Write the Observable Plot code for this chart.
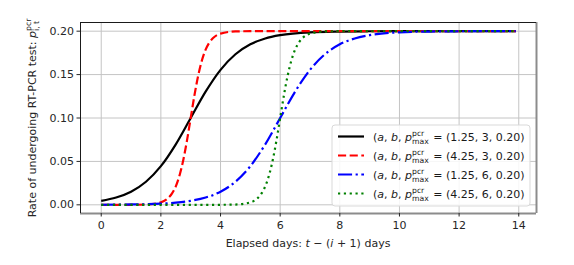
<!DOCTYPE html>
<html>
<head>
<meta charset="utf-8">
<script src="https://cdn.jsdelivr.net/npm/d3@7"></script>
<script src="https://cdn.jsdelivr.net/npm/@observablehq/plot@0.6"></script>
<style>
  html, body { margin: 0; padding: 0; background: #fff; }
  #chart { width: 574px; height: 265px; }
</style>
</head>
<body>
<div id="chart"></div>
<script>
// ---- data ----
const blackX = [0, 0.5, 1, 1.5, 2, 2.5, 3, 3.5, 4, 4.5, 5, 5.5, 6, 7, 8, 9, 10, 11, 12, 13, 13.9];
const blackY = [0.0046, 0.0084, 0.0151, 0.0266, 0.0445, 0.0697, 0.1, 0.1303, 0.1555, 0.1734, 0.1849, 0.1916, 0.1954, 0.1987, 0.1996, 0.1999, 0.2, 0.2, 0.2, 0.2, 0.2];

const redX = [0, 1, 1.5, 2, 2.25, 2.375, 2.5, 2.625, 2.75, 2.875, 3, 3.125, 3.25, 3.375, 3.5, 3.625, 3.75, 4, 4.5, 5, 6, 8, 10, 12, 13.9];
const redY = [0, 0.00004, 0.0003, 0.0028, 0.0079, 0.0131, 0.0213, 0.0338, 0.0514, 0.074, 0.1, 0.126, 0.1486, 0.1662, 0.1787, 0.1869, 0.1921, 0.1972, 0.1997, 0.2, 0.2, 0.2, 0.2, 0.2, 0.2];

const blueX = [0, 1, 2, 2.5, 3, 3.5, 4, 4.5, 5, 5.5, 6, 6.5, 7, 7.5, 8, 8.5, 9, 10, 11, 12, 13, 13.9];
const blueY = [0.0001, 0.0004, 0.0013, 0.0025, 0.0046, 0.0084, 0.0151, 0.0266, 0.0445, 0.0697, 0.1, 0.1303, 0.1555, 0.1734, 0.1849, 0.1916, 0.1954, 0.1987, 0.1996, 0.1999, 0.2, 0.2];

const greenX = [0, 2, 4, 4.5, 5, 5.25, 5.375, 5.5, 5.625, 5.75, 5.875, 6, 6.125, 6.25, 6.375, 6.5, 6.625, 6.75, 7, 7.5, 8, 10, 12, 13.9];
const greenY = [0, 0, 0.00004, 0.0003, 0.0028, 0.0079, 0.0131, 0.0213, 0.0338, 0.0514, 0.074, 0.1, 0.126, 0.1486, 0.1662, 0.1787, 0.1869, 0.1921, 0.1972, 0.1997, 0.2, 0.2, 0.2, 0.2];

const seriesNames = ["(1.25, 3, 0.20)", "(4.25, 3, 0.20)", "(1.25, 6, 0.20)", "(4.25, 6, 0.20)"];
const xTicks = [0, 2, 4, 6, 8, 10, 12, 14];
const yTicks = [0, 0.05, 0.10, 0.15, 0.20];
const xLabel = "Elapsed days: ";
const yLabel = "Rate of undergoing RT-PCR test: ";

// ---- styles ----
const colors = ["#000000", "#ff0000", "#0000ff", "#008000"];
const lw = 2.2;
const dashes = [null, `${3.7*lw},${1.6*lw}`, `${6.4*lw},${1.6*lw},${1*lw},${1.6*lw}`, `${1*lw},${1.65*lw}`];

const toRows = (xs, ys, k) => xs.map((x, i) => ({x, y: ys[i], k}));
const series = [
  toRows(blackX, blackY, 0),
  toRows(redX, redY, 1),
  toRows(blueX, blueY, 2),
  toRows(greenX, greenY, 3)
];

const xDomain = [-0.695, 14.595];
const yDomain = [-0.01, 0.21];
const FONT = "DejaVu Sans";

const chart = Plot.plot({
  width: 574,
  height: 265,
  marginLeft: 80,
  marginRight: 38,
  marginTop: 22,
  marginBottom: 52,
  style: {fontFamily: FONT, fontSize: "11px", color: "#262626", background: "#fff", overflow: "visible"},
  x: {domain: xDomain},
  y: {domain: yDomain},
  marks: [
    Plot.gridX(xTicks, {stroke: "#c4c4c4", strokeOpacity: 1, strokeWidth: 1}),
    Plot.gridY(yTicks, {stroke: "#c4c4c4", strokeOpacity: 1, strokeWidth: 1}),
    ...series.map((rows, k) => Plot.line(rows, {
      x: "x", y: "y", stroke: colors[k], strokeWidth: lw,
      strokeDasharray: dashes[k], strokeLinecap: "butt", curve: "monotone-x"
    })),
    Plot.ruleX([xDomain[1]], {stroke: "#8c8c8c", strokeWidth: 2}),
    Plot.ruleY([yDomain[0]], {stroke: "#8c8c8c", strokeWidth: 2}),
    Plot.ruleX([xDomain[0]], {stroke: "#1a1a1a", strokeWidth: 1}),
    Plot.ruleY([yDomain[1]], {stroke: "#1a1a1a", strokeWidth: 1}),
    Plot.axisX({ticks: xTicks, tickSize: 3.5, tickPadding: 4, label: null, fontSize: 11, stroke: "#262626"}),
    Plot.axisY({ticks: yTicks, tickSize: 3.5, tickPadding: 3, label: null, fontSize: 11, tickFormat: d3.format(".2f"), stroke: "#262626"})
  ]
});
document.getElementById("chart").appendChild(chart);

// ---- rich text helper (for math-like labels) ----
const svg = d3.select(chart);
function rich(g, parts, baseSize) {
  let x = 0;
  g.attr("text-anchor", "start");
  for (const p of parts) {
    if (p.sup !== undefined) {
      const s = g.append("text").attr("x", x).attr("y", -baseSize*0.42).attr("font-size", baseSize*0.7).text(p.sup);
      const b = g.append("text").attr("x", x).attr("y", baseSize*0.3).attr("font-size", baseSize*0.7).text(p.sub);
      x += Math.max(s.node().getComputedTextLength(), b.node().getComputedTextLength()) + 1;
    } else {
      const t = g.append("text").attr("x", x).attr("y", 0).attr("font-size", p.size || baseSize)
        .attr("font-style", p.it ? "italic" : null).style("white-space", "pre").text(p.t);
      x += t.node().getComputedTextLength();
    }
  }
  return x;
}
const sc = {x: chart.scale("x"), y: chart.scale("y")};

// x label
{
  const g = svg.append("g").attr("fill", "#262626").attr("font-family", FONT);
  const w = rich(g, [{t: xLabel}, {t: "t", it: true}, {t: " − ("}, {t: "i", it: true}, {t: " + 1) days"}], 11);
  const cx = (sc.x.apply(xDomain[0]) + sc.x.apply(xDomain[1])) / 2;
  g.attr("transform", `translate(${cx - w/2},${247})`);
}
// y label
{
  const g = svg.append("g").attr("fill", "#262626").attr("font-family", FONT);
  const w = rich(g, [{t: yLabel}, {t: "p", it: true}, {sup: "pcr", sub: "i, t"}], 11);
  const cy = (sc.y.apply(yDomain[0]) + sc.y.apply(yDomain[1])) / 2;
  g.attr("transform", `translate(${36},${cy + w/2}) rotate(-90)`);
}
// legend
{
  const lx = 332, ly = 125, lwid = 198, lh = 81;
  const g = svg.append("g").attr("font-family", FONT).attr("fill", "#1a1a1a");
  g.append("rect").attr("x", lx).attr("y", ly).attr("width", lwid).attr("height", lh)
    .attr("rx", 3).attr("fill", "#fff").attr("fill-opacity", 0.85).attr("stroke", "#d9d9d9").attr("stroke-width", 1);
  seriesNames.forEach((name, k) => {
    const yy = ly + 11.5 + k * 19;
    g.append("line").attr("x1", lx + 6).attr("x2", lx + 32).attr("y1", yy).attr("y2", yy)
      .attr("stroke", colors[k]).attr("stroke-width", lw).attr("stroke-dasharray", dashes[k]);
    const tg = g.append("g").attr("transform", `translate(${lx + 41},${yy + 4})`);
    rich(tg, [{t: "("}, {t: "a", it: true}, {t: ", "}, {t: "b", it: true}, {t: ", "}, {t: "p", it: true},
              {sup: "pcr", sub: "max"}, {t: " = " + name}], 11);
  });
}
</script>
</body>
</html>
